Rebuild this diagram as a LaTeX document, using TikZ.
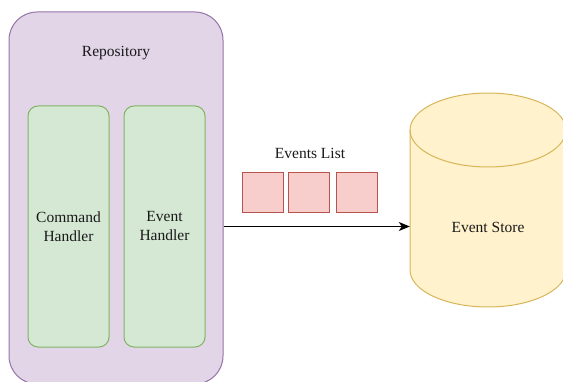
\documentclass[tikz,border=0pt]{standalone}
\usepackage{fontspec}
\setmainfont{Liberation Serif}
\usetikzlibrary{arrows.meta,positioning}
\definecolor{repoFill}{HTML}{E1D5E7}
\definecolor{repoLine}{HTML}{9673A6}
\definecolor{hdlFill}{HTML}{D5E8D4}
\definecolor{hdlLine}{HTML}{82B366}
\definecolor{evFill}{HTML}{F8CECC}
\definecolor{evLine}{HTML}{B85450}
\definecolor{dbFill}{HTML}{FFF2CC}
\definecolor{dbLine}{HTML}{D6B656}
\tikzset{
  lbl/.style={font=\fontsize{15.5}{19}\selectfont, text=black!90, align=center, inner sep=0pt},
  container/.style={draw=repoLine, fill=repoFill, line width=1pt, rounded corners=28pt, inner sep=0pt},
  handler/.style={draw=hdlLine, fill=hdlFill, line width=1pt, rounded corners=10pt, inner sep=0pt,
    minimum width=81pt, minimum height=241pt, lbl},
  evbox/.style={draw=evLine, fill=evFill, line width=1pt, inner sep=0pt, minimum width=41pt, minimum height=40pt},
  flow/.style={line width=1.1pt, -{Stealth[length=11pt,width=9pt,inset=3pt]}}
}
\begin{document}
\begin{tikzpicture}[x=1pt,y=1pt]
\useasboundingbox (0,0) rectangle (563,381);
\clip (0,0) rectangle (563,381);

% repository container (runs past the lower edge)
\node[container, minimum width=214pt, minimum height=372pt] (repo) at (116,183) {};
\node[lbl] (repoLabel) at (116,328) {Repository};

% handlers inside the repository
\node[handler] (cmd) at (68.5,154.5) {Command\\Handler};
\node[handler] (evh) at (164.5,154.5) {Event\\Handler};

% list of events
\node[lbl] (listLabel) at (310,228) {Events List};
\node[evbox] (e1) at (262.5,188) {};
\node[evbox] (e2) at (309,188) {};
\node[evbox] (e3) at (357,188) {};

% event store cylinder
\path[draw=dbLine, fill=dbFill, line width=1pt]
  (410,251) -- (410,111)
  arc[start angle=180, end angle=360, x radius=78pt, y radius=37pt]
  -- (566,251)
  arc[start angle=0, end angle=180, x radius=78pt, y radius=37pt] -- cycle;
\draw[dbLine, line width=1pt]
  (410,251) arc[start angle=180, end angle=360, x radius=78pt, y radius=37pt];
\node[lbl, minimum width=156pt, minimum height=140pt] (store) at (488,181) {};
\node[lbl] (storeLabel) at (488,154) {Event Store};

% events flow from the repository to the store
\draw[flow] (repo.east |- evh) -- (store.west |- evh);
\end{tikzpicture}
\end{document}
